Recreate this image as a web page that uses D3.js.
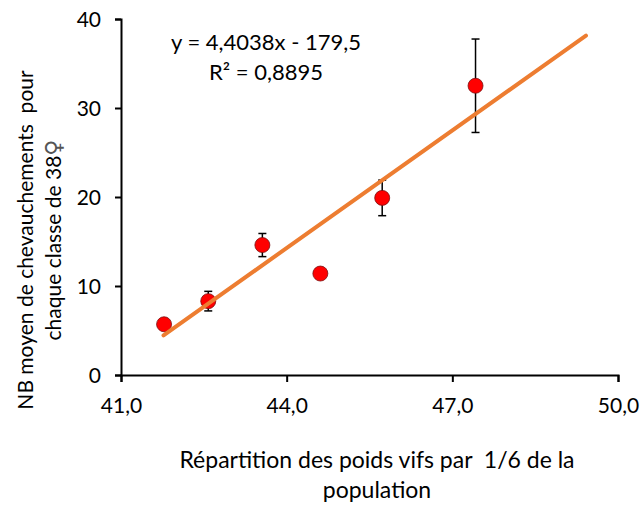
<!DOCTYPE html>
<html>
<head>
<meta charset="utf-8">
<script src="https://cdn.jsdelivr.net/npm/d3@7"></script>
<style>
  body { margin: 0; background: #fff; }
  svg text { font-family: Lato, "Open Sans", sans-serif; fill: #000; white-space: pre; }
</style>
</head>
<body>
<svg id="chart" width="640" height="506"></svg>
<script>
// data
var poidsVifs = [41.78, 42.58, 43.56, 44.61, 45.73, 47.42];
var chevauchements = [5.7, 8.3, 14.6, 11.4, 19.9, 32.5];
var erreurs = [0, 1.1, 1.3, 0, 2.0, 5.25];
var xTicks = [41, 44, 47, 50];
var yTicks = [0, 10, 20, 30, 40];
var trendCoef = [4.4038, -179.5];     // pente, ordonnee
var trendRange = [41.77, 49.42];      // forecast forward 2
var equationLines = ["y = 4,4038x - 179,5", "R² = 0,8895"];

var svg = d3.select("#chart");
var plotLeft = 121, plotRight = 618, plotTop = 19, plotBottom = 375;

var x = d3.scaleLinear().domain([41, 50]).range([plotLeft, plotRight]);
var y = d3.scaleLinear().domain([0, 40]).range([plotBottom, plotTop]);
var fr = d3.format(".1f");

// axes
var xAxis = svg.append("g")
    .attr("transform", "translate(0," + plotBottom + ")")
    .call(d3.axisBottom(x).tickValues(xTicks).tickSizeOuter(0).tickSize(7)
        .tickFormat(function(d){ return fr(d).replace(".", ","); }));
var yAxis = svg.append("g")
    .attr("transform", "translate(" + plotLeft + ",0)")
    .call(d3.axisLeft(y).tickValues(yTicks).tickSizeOuter(0).tickSize(6).tickPadding(14));

svg.selectAll(".domain").attr("stroke", "#000").attr("stroke-width", 2);
svg.selectAll(".tick line").attr("stroke", "#000").attr("stroke-width", 2);
svg.selectAll(".tick text").attr("font-size", "21px").attr("font-family", "Lato, sans-serif");
xAxis.selectAll(".tick text").attr("dy", "1.35em");
yAxis.selectAll(".tick text").attr("dy", "0.35em");

// error bars
var pts = poidsVifs.map(function(d, i){ return {x: d, y: chevauchements[i], e: erreurs[i]}; });
var eb = svg.append("g").selectAll("g").data(pts.filter(function(d){ return d.e > 0; }))
    .enter().append("g").attr("stroke", "#000").attr("stroke-width", 1.5);
eb.append("line")
    .attr("x1", function(d){ return x(d.x); }).attr("x2", function(d){ return x(d.x); })
    .attr("y1", function(d){ return y(d.y + d.e); }).attr("y2", function(d){ return y(d.y - d.e); });
eb.append("line")
    .attr("x1", function(d){ return x(d.x) - 4; }).attr("x2", function(d){ return x(d.x) + 4; })
    .attr("y1", function(d){ return y(d.y + d.e); }).attr("y2", function(d){ return y(d.y + d.e); });
eb.append("line")
    .attr("x1", function(d){ return x(d.x) - 4; }).attr("x2", function(d){ return x(d.x) + 4; })
    .attr("y1", function(d){ return y(d.y - d.e); }).attr("y2", function(d){ return y(d.y - d.e); });

// markers
svg.append("g").selectAll("circle").data(pts).enter().append("circle")
    .attr("cx", function(d){ return x(d.x); })
    .attr("cy", function(d){ return y(d.y); })
    .attr("r", 7.5)
    .attr("fill", "#ff0000")
    .attr("stroke", "#7a1010")
    .attr("stroke-width", 0.8);

// trend line
var trend = trendRange.map(function(v){ return [v, trendCoef[0] * v + trendCoef[1]]; });
svg.append("path")
    .datum(trend)
    .attr("d", d3.line().x(function(d){ return x(d[0]); }).y(function(d){ return y(d[1]); }))
    .attr("stroke", "#ed7d31")
    .attr("stroke-width", 4)
    .attr("stroke-linecap", "round")
    .attr("fill", "none");

// equation
svg.append("text").attr("x", 266).attr("y", 50).attr("text-anchor", "middle")
    .attr("font-size", "22px").text(equationLines[0]);
svg.append("text").attr("x", 266).attr("y", 80).attr("text-anchor", "middle")
    .attr("font-size", "22px").text(equationLines[1]);

// axis titles
var xt = svg.append("text").attr("text-anchor", "middle").attr("font-size", "23px");
xt.append("tspan").attr("x", 377).attr("y", 468).text("Répartition des poids vifs par  1/6 de la");
xt.append("tspan").attr("x", 377).attr("y", 498).text("population");

var yt = svg.append("text").attr("text-anchor", "middle").attr("font-size", "21px")
    .attr("transform", "translate(0,240) rotate(-90)");
yt.append("tspan").attr("x", 0).attr("y", 33).text("NB moyen de chevauchements  pour");
var l2 = yt.append("tspan").attr("x", 0).attr("y", 61).text("chaque classe de 38");
yt.append("tspan").attr("font-family", "DejaVu Sans").attr("font-size", "22px")
    .attr("fill", "#555").text("♀");
</script>
</body>
</html>
